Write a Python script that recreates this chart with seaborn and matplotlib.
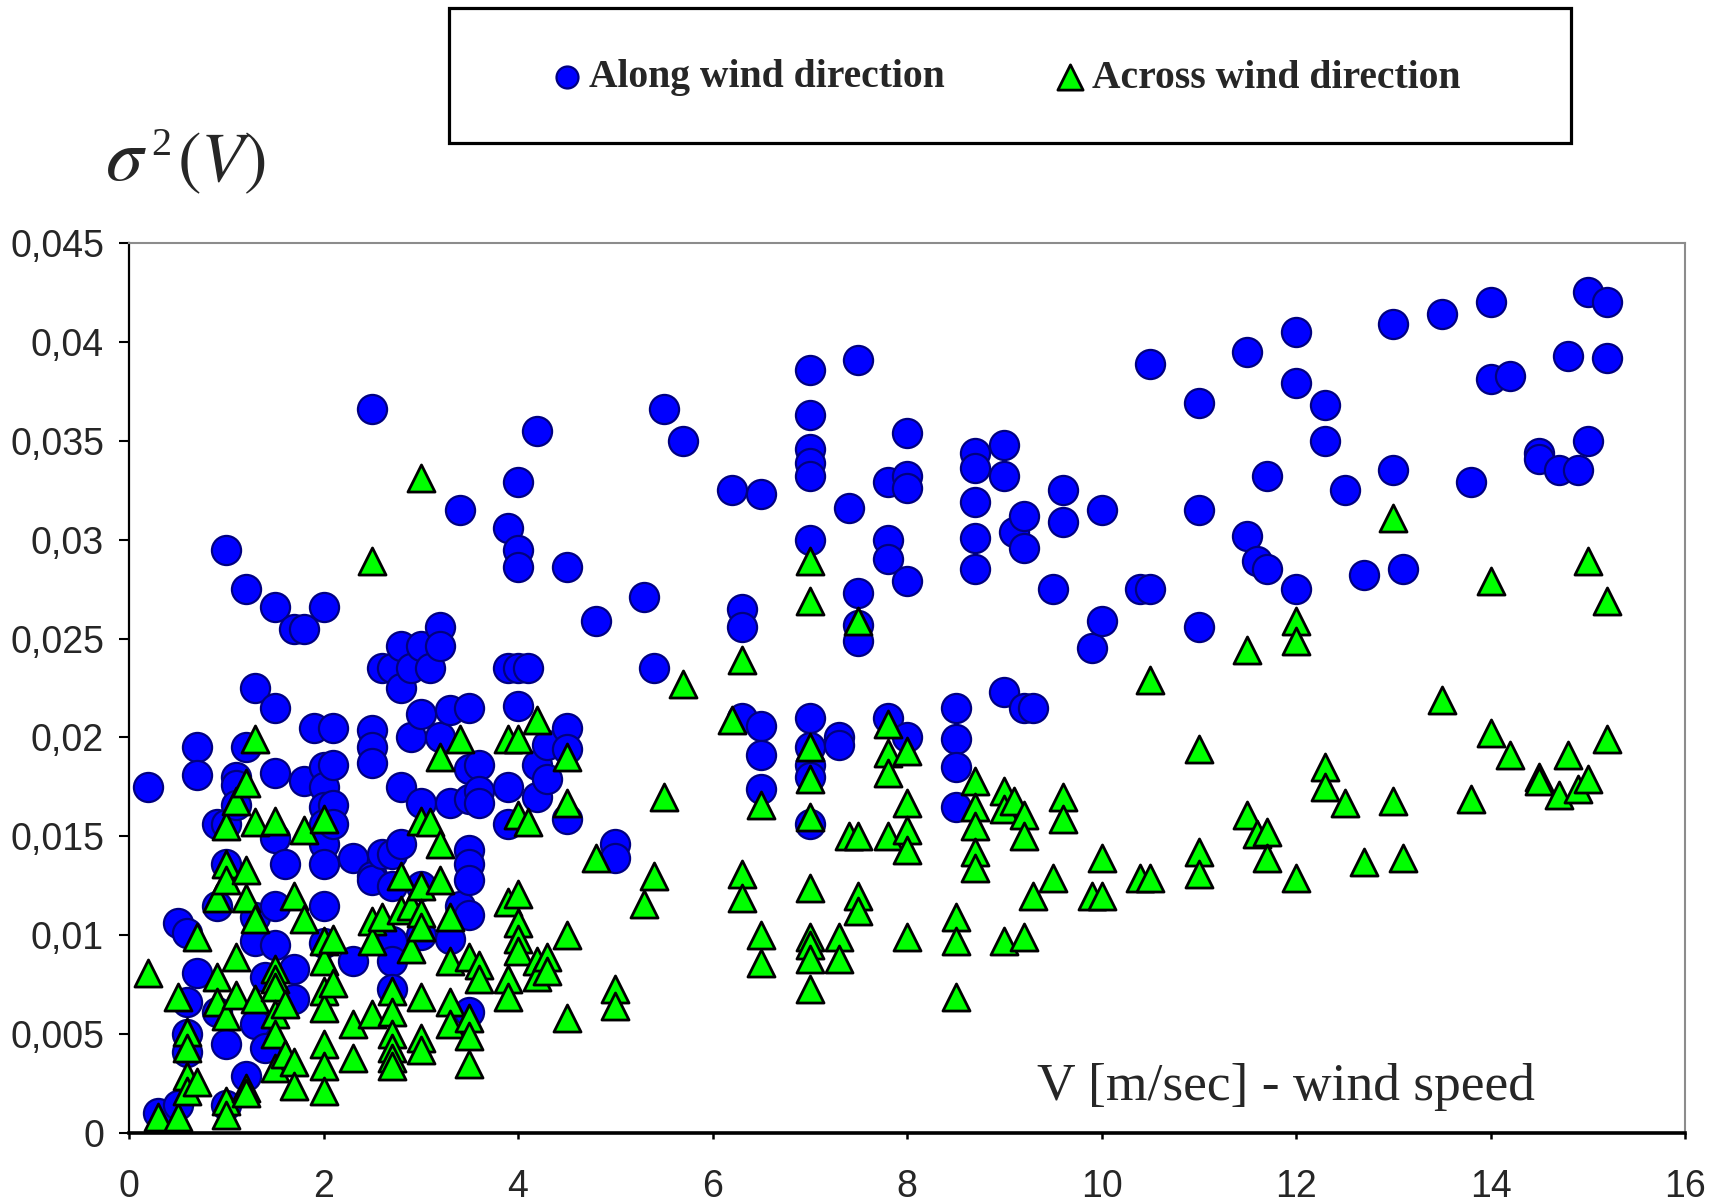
import numpy as np
import pandas as pd
import matplotlib
matplotlib.use("Agg")
import matplotlib.pyplot as plt
from matplotlib.patches import Rectangle
import seaborn as sns

# ---------------- data ----------------
series_names = ["Along wind direction", "Across wind direction"]

along_v = [0.2, 0.3, 0.5, 0.5, 0.6, 0.6, 0.6, 0.6, 0.7, 0.7, 0.7,
           0.9, 0.9, 0.9, 1.0, 1.0, 1.0, 1.0, 1.0, 1.1, 1.1, 1.1,
           1.2, 1.2, 1.2, 1.3, 1.3, 1.3, 1.3, 1.4, 1.4,
           1.5, 1.5, 1.5, 1.5, 1.5, 1.5, 1.6, 1.7, 1.7, 1.7, 1.8, 1.8, 1.9,
           2.0, 2.0, 2.0, 2.0, 2.0, 2.0, 2.0, 2.0, 2.0,
           2.1, 2.1, 2.1, 2.1, 2.3, 2.3,
           2.5, 2.5, 2.5, 2.5, 2.5, 2.5, 2.6, 2.6,
           2.7, 2.7, 2.7, 2.7, 2.7, 2.7, 2.8, 2.8, 2.8, 2.8, 2.9, 2.9,
           3.0, 3.0, 3.0, 3.0, 3.0, 3.1, 3.2, 3.2, 3.2,
           3.3, 3.3, 3.3, 3.4, 3.4,
           3.5, 3.5, 3.5, 3.5, 3.5, 3.5, 3.5, 3.5, 3.6, 3.6, 3.6,
           3.9, 3.9, 3.9, 3.9, 4.0, 4.0, 4.0, 4.0, 4.0, 4.1,
           4.2, 4.2, 4.2, 4.3, 4.3, 4.5, 4.5, 4.5, 4.5, 4.8, 5.0, 5.0,
           5.3, 5.4, 5.5, 5.7, 6.2, 6.5, 6.3, 6.3, 6.3, 6.5, 6.5, 6.5,
           7.0, 7.0, 7.0, 7.0, 7.0, 7.0, 7.0, 7.0, 7.0, 7.0, 7.0,
           7.3, 7.3, 7.4, 7.5, 7.5, 7.5, 7.5,
           7.8, 7.8, 7.8, 7.8, 8.0, 8.0, 8.0, 8.0, 8.0,
           8.5, 8.5, 8.5, 8.5, 8.7, 8.7, 8.7, 8.7, 8.7,
           9.0, 9.0, 9.0, 9.1, 9.2, 9.2, 9.2, 9.3,
           9.5, 9.6, 9.6, 9.9, 10.0, 10.0, 10.4, 10.5, 10.5,
           11.0, 11.0, 11.0, 11.5, 11.5, 11.6, 11.7, 11.7,
           12.0, 12.0, 12.0, 12.3, 12.3, 12.5, 12.7,
           13.0, 13.0, 13.1, 13.5, 13.8, 14.0, 14.0, 14.2,
           14.5, 14.5, 14.7, 14.8, 14.9, 15.0, 15.0, 15.2, 15.2]
along_var = [0.0175, 0.0010, 0.0014, 0.0106, 0.0101, 0.0066, 0.0050, 0.0041, 0.0081, 0.0195, 0.0181,
             0.0156, 0.0115, 0.0061, 0.0295, 0.0156, 0.0136, 0.0045, 0.0014, 0.0180, 0.0176, 0.0166,
             0.0275, 0.0195, 0.0029, 0.0225, 0.0109, 0.0097, 0.0055, 0.0079, 0.0043,
             0.0266, 0.0215, 0.0182, 0.0149, 0.0115, 0.0095, 0.0136, 0.0255, 0.0083, 0.0068, 0.0255, 0.0178, 0.0205,
             0.0266, 0.0185, 0.0175, 0.0165, 0.0156, 0.0146, 0.0136, 0.0115, 0.0096,
             0.0205, 0.0186, 0.0166, 0.0156, 0.0139, 0.0087,
             0.0366, 0.0204, 0.0195, 0.0130, 0.0187, 0.0128, 0.0235, 0.0141,
             0.0235, 0.0141, 0.0125, 0.0097, 0.0087, 0.0073, 0.0246, 0.0225, 0.0175, 0.0146, 0.0200, 0.0235,
             0.0246, 0.0212, 0.0167, 0.0125, 0.0100, 0.0235, 0.0256, 0.0246, 0.0200,
             0.0214, 0.0167, 0.0098, 0.0115, 0.0315,
             0.0215, 0.0184, 0.0169, 0.0143, 0.0136, 0.0128, 0.0110, 0.0061, 0.0186, 0.0173, 0.0167,
             0.0306, 0.0235, 0.0175, 0.0156, 0.0329, 0.0295, 0.0286, 0.0235, 0.0216, 0.0235,
             0.0355, 0.0186, 0.0170, 0.0196, 0.0179, 0.0286, 0.0205, 0.0194, 0.0159, 0.0259, 0.0146, 0.0139,
             0.0271, 0.0235, 0.0366, 0.0350, 0.0325, 0.0323, 0.0265, 0.0256, 0.0210, 0.0206, 0.0191, 0.0174,
             0.0386, 0.0363, 0.0346, 0.0339, 0.0332, 0.0300, 0.0210, 0.0195, 0.0186, 0.0180, 0.0156,
             0.0200, 0.0196, 0.0316, 0.0391, 0.0273, 0.0257, 0.0249,
             0.0329, 0.0300, 0.0290, 0.0210, 0.0354, 0.0332, 0.0326, 0.0279, 0.0200,
             0.0215, 0.0199, 0.0185, 0.0165, 0.0344, 0.0336, 0.0319, 0.0301, 0.0285,
             0.0348, 0.0332, 0.0223, 0.0304, 0.0312, 0.0296, 0.0215, 0.0215,
             0.0275, 0.0325, 0.0309, 0.0245, 0.0315, 0.0259, 0.0275, 0.0275, 0.0389,
             0.0369, 0.0315, 0.0256, 0.0395, 0.0302, 0.0289, 0.0285, 0.0332,
             0.0405, 0.0379, 0.0275, 0.0368, 0.0350, 0.0325, 0.0282,
             0.0409, 0.0335, 0.0285, 0.0414, 0.0329, 0.0420, 0.0381, 0.0383,
             0.0344, 0.0341, 0.0335, 0.0393, 0.0335, 0.0425, 0.0350, 0.0420, 0.0392]

across_v = [0.2, 0.3, 0.5, 0.5, 0.6, 0.6, 0.6, 0.6, 0.7, 0.7,
            0.9, 0.9, 0.9, 1.0, 1.0, 1.0, 1.0, 1.0, 1.0,
            1.1, 1.1, 1.1, 1.2, 1.2, 1.2, 1.2, 1.2,
            1.3, 1.3, 1.3, 1.3, 1.5, 1.5, 1.5, 1.5, 1.5, 1.5, 1.5,
            1.6, 1.6, 1.7, 1.7, 1.7, 1.8, 1.8,
            2.0, 2.0, 2.0, 2.0, 2.0, 2.0, 2.0, 2.0, 2.1, 2.1, 2.3, 2.3,
            2.5, 2.5, 2.5, 2.5, 2.6,
            2.7, 2.7, 2.7, 2.7, 2.7, 2.7, 2.8, 2.8, 2.9, 2.9,
            3.0, 3.0, 3.0, 3.0, 3.0, 3.0, 3.0, 3.0, 3.1,
            3.2, 3.2, 3.2, 3.3, 3.3, 3.3, 3.3, 3.4,
            3.5, 3.5, 3.5, 3.5, 3.6, 3.6,
            3.9, 3.9, 3.9, 3.9, 4.0, 4.0, 4.0, 4.0, 4.0, 4.0, 4.1,
            4.2, 4.2, 4.2, 4.3, 4.3, 4.5, 4.5, 4.5, 4.5, 4.8, 5.0, 5.0,
            5.3, 5.4, 5.5, 5.7, 6.2, 6.3, 6.3, 6.3, 6.5, 6.5, 6.5,
            7.0, 7.0, 7.0, 7.0, 7.0, 7.0, 7.0, 7.0, 7.0, 7.0,
            7.3, 7.3, 7.4, 7.5, 7.5, 7.5, 7.5,
            7.8, 7.8, 7.8, 7.8, 8.0, 8.0, 8.0, 8.0, 8.0,
            8.5, 8.5, 8.5, 8.7, 8.7, 8.7, 8.7, 8.7,
            9.0, 9.0, 9.0, 9.1, 9.2, 9.2, 9.2,
            9.3, 9.5, 9.6, 9.6, 9.9, 10.0, 10.0,
            10.4, 10.5, 10.5, 11.0, 11.0, 11.0,
            11.5, 11.5, 11.6, 11.7, 11.7, 12.0, 12.0, 12.0,
            12.3, 12.3, 12.5, 12.7, 13.0, 13.0, 13.1,
            13.5, 13.8, 14.0, 14.0, 14.2,
            14.5, 14.5, 14.7, 14.8, 14.9, 15.0, 15.0, 15.2, 15.2]
across_var = [0.0081, 0.0008, 0.0008, 0.0069, 0.0051, 0.0043, 0.0029, 0.0021, 0.0026, 0.0099,
              0.0119, 0.0079, 0.0066, 0.0155, 0.0136, 0.0128, 0.0059, 0.0016, 0.0009,
              0.0168, 0.0089, 0.0070, 0.0177, 0.0133, 0.0119, 0.0023, 0.0020,
              0.0199, 0.0157, 0.0108, 0.0068, 0.0158, 0.0083, 0.0078, 0.0074, 0.0060, 0.0050, 0.0033,
              0.0065, 0.0040, 0.0120, 0.0036, 0.0024, 0.0153, 0.0108,
              0.0159, 0.0097, 0.0087, 0.0072, 0.0063, 0.0045, 0.0034, 0.0021, 0.0098, 0.0076, 0.0055, 0.0038,
              0.0289, 0.0107, 0.0097, 0.0060, 0.0109,
              0.0072, 0.0061, 0.0050, 0.0043, 0.0038, 0.0034, 0.0130, 0.0113, 0.0115, 0.0093,
              0.0331, 0.0158, 0.0125, 0.0111, 0.0104, 0.0069, 0.0048, 0.0042, 0.0157,
              0.0190, 0.0146, 0.0128, 0.0109, 0.0087, 0.0066, 0.0055, 0.0199,
              0.0089, 0.0058, 0.0049, 0.0035, 0.0085, 0.0078,
              0.0199, 0.0117, 0.0078, 0.0069, 0.0199, 0.0161, 0.0121, 0.0106, 0.0098, 0.0092, 0.0157,
              0.0209, 0.0087, 0.0079, 0.0089, 0.0082, 0.0190, 0.0167, 0.0100, 0.0058, 0.0139, 0.0073, 0.0064,
              0.0116, 0.0130, 0.0170, 0.0227, 0.0209, 0.0239, 0.0131, 0.0119, 0.0166, 0.0100, 0.0086,
              0.0289, 0.0269, 0.0195, 0.0179, 0.0160, 0.0124, 0.0099, 0.0095, 0.0088, 0.0073,
              0.0099, 0.0088, 0.0150, 0.0150, 0.0259, 0.0120, 0.0112,
              0.0207, 0.0192, 0.0182, 0.0150, 0.0193, 0.0167, 0.0153, 0.0143, 0.0099,
              0.0109, 0.0097, 0.0069, 0.0178, 0.0165, 0.0155, 0.0142, 0.0134,
              0.0173, 0.0164, 0.0097, 0.0168, 0.0161, 0.0150, 0.0099,
              0.0120, 0.0129, 0.0170, 0.0159, 0.0120, 0.0120, 0.0139,
              0.0129, 0.0129, 0.0229, 0.0194, 0.0142, 0.0131,
              0.0244, 0.0161, 0.0151, 0.0152, 0.0139, 0.0259, 0.0249, 0.0129,
              0.0185, 0.0175, 0.0167, 0.0137, 0.0311, 0.0168, 0.0139,
              0.0219, 0.0169, 0.0279, 0.0202, 0.0191,
              0.0180, 0.0178, 0.0171, 0.0191, 0.0174, 0.0289, 0.0179, 0.0269, 0.0199]

xtick_values = [0, 2, 4, 6, 8, 10, 12, 14, 16]
xtick_labels = ["0", "2", "4", "6", "8", "10", "12", "14", "16"]
ytick_values = [0, 0.005, 0.01, 0.015, 0.02, 0.025, 0.03, 0.035, 0.04, 0.045]
ytick_labels = ["0", "0,005", "0,01", "0,015", "0,02", "0,025", "0,03", "0,035", "0,04", "0,045"]

x_title = "V [m/sec] - wind speed"
y_title_sym = r"$\sigma$"
y_title_exp = "2"
y_title_arg = r"$(V)$"

# ---------------- figure ----------------
sns.set_theme(style="white")
plt.rcParams["font.family"] = ["Liberation Sans", "DejaVu Sans"]
plt.rcParams["mathtext.fontset"] = "stix"

W, H = 1719, 1203
fig = plt.figure(figsize=(W / 100, H / 100), dpi=100)
fig.patch.set_facecolor("white")
ax = fig.add_axes([129 / W, 1 - 1133 / H, (1685 - 129) / W, (1133 - 243) / H])

df_along = pd.DataFrame({"V": along_v, "var": along_var})
df_across = pd.DataFrame({"V": across_v, "var": across_var})

sns.scatterplot(data=df_along, x="V", y="var", ax=ax, marker="o", s=440,
                color="#0000FF", edgecolor="#000080", linewidth=1.6,
                label=series_names[0], legend=False, zorder=3)
sns.scatterplot(data=df_across, x="V", y="var", ax=ax, marker="^", s=380,
                color="#00FF00", edgecolor="black", linewidth=2.0,
                label=series_names[1], legend=False, zorder=4)

ax.set_xlim(0, 16)
ax.set_ylim(0, 0.045)
ax.set_xticks(xtick_values)
ax.set_xticklabels(xtick_labels)
ax.set_yticks(ytick_values)
ax.set_yticklabels(ytick_labels)
ax.set_xlabel("")
ax.set_ylabel("")
ax.grid(False)

for side in ["top", "right"]:
    ax.spines[side].set_color("#8c8c8c")
    ax.spines[side].set_linewidth(1.5)
ax.spines["left"].set_color("black")
ax.spines["left"].set_linewidth(1.6)
ax.spines["bottom"].set_color("black")
ax.spines["bottom"].set_linewidth(2.6)
ax.spines["bottom"].set_zorder(5)

ax.tick_params(axis="y", direction="out", length=7, width=1.5, color="black",
               pad=11, labelsize=27, left=True)
ax.tick_params(axis="x", direction="out", length=4, width=1.8, color="black",
               pad=22, labelsize=27, bottom=True)

ax.text((1037 - 129) / (1685 - 129), (1133 - 1100) / (1133 - 243), x_title,
        transform=ax.transAxes, fontsize=38.5, family="Liberation Serif",
        ha="left", va="baseline", zorder=6)

# y title: sigma^2(V)
fig.text(105 / W, 1 - 180 / H, y_title_sym, fontsize=54, ha="left", va="baseline")
fig.text(151 / W, 1 - 127 / H, y_title_exp, fontsize=29, family="Liberation Serif",
         ha="left", va="top")
fig.text(177 / W, 1 - 181 / H, y_title_arg, fontsize=51, ha="left", va="baseline")

# legend box
fig.patches.append(Rectangle((449 / W, 1 - 143 / H), (1571 - 449) / W, (143 - 8) / H,
                             transform=fig.transFigure, fill=False,
                             edgecolor="black", linewidth=2.3))
handles, labels = ax.get_legend_handles_labels()
leg = fig.legend(handles, labels, loc="center left",
                 bbox_to_anchor=(555 / W, 1 - 78 / H), bbox_transform=fig.transFigure,
                 ncol=2, frameon=False, borderpad=0, borderaxespad=0,
                 handlelength=0.6, handletextpad=0.25, columnspacing=2.88,
                 prop={"family": "Liberation Serif", "weight": "bold", "size": 28.5})
leg.legend_handles[0].set_sizes([250])
leg.legend_handles[1].set_sizes([330])

fig.savefig("out.png", dpi=100, facecolor="white")
